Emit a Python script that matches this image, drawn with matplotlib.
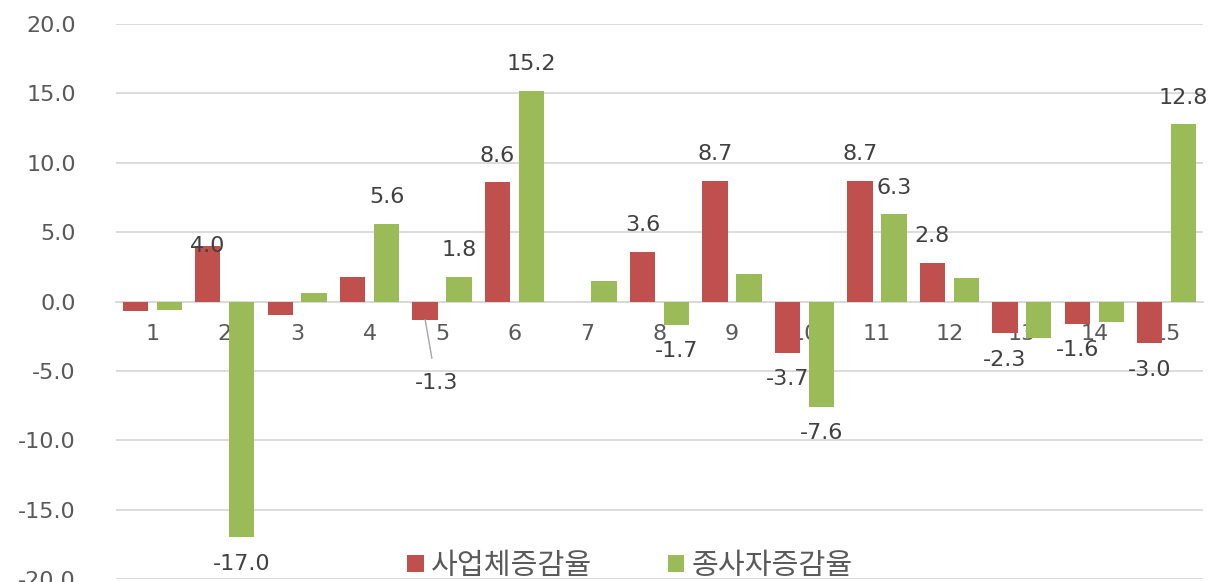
import matplotlib
matplotlib.use("Agg")
import matplotlib.pyplot as plt
import numpy as np

# ── data ─────────────────────────────────────────────
categories = [str(i) for i in range(1, 16)]
biz_rate = [-0.7, 4.0, -1.0, 1.8, -1.3, 8.6, 0.0, 3.6, 8.7, -3.7, 8.7, 2.8, -2.3, -1.6, -3.0]
emp_rate = [-0.6, -17.0, 0.6, 5.6, 1.8, 15.2, 1.5, -1.7, 2.0, -7.6, 6.3, 1.7, -2.6, -1.5, 12.8]
biz_show = [0, 1, 0, 0, 1, 1, 0, 1, 1, 1, 1, 1, 1, 1, 1]
emp_show = [0, 1, 0, 1, 1, 1, 0, 1, 0, 1, 1, 0, 0, 0, 1]
series_names = ['사업체증감율', '종사자증감율']
yticks = [-20, -15, -10, -5, 0, 5, 10, 15, 20]

RED = '#c0504d'
GREEN = '#9bbb59'
TXT = '#404040'

plt.rcParams['font.family'] = ['DejaVu Sans', 'Noto Sans CJK KR']

fig = plt.figure(figsize=(12.23, 5.82), dpi=100)
ax = fig.add_axes([116/1223, 3/582, 1087/1223, 555/582])

x = np.arange(1, 16)
w = 0.35
off = 0.234
ax.bar(x - off, biz_rate, w, color=RED, label=series_names[0], zorder=3)
ax.bar(x + off, emp_rate, w, color=GREEN, label=series_names[1], zorder=3)

ax.set_xlim(0.5, 15.5)
ax.set_ylim(-20, 20)
ax.set_yticks(yticks)
ax.set_yticklabels([f'{v:.1f}' for v in yticks], fontsize=16, color='#595959')
ax.tick_params(axis='y', length=0, pad=29)
ax.grid(axis='y', color='#d9d9d9', lw=1.3, zorder=0)

ax.spines['bottom'].set_position(('data', 0))
ax.spines['bottom'].set_color('#d9d9d9')
ax.spines['bottom'].set_linewidth(1.3)
for s in ['top', 'right', 'left']:
    ax.spines[s].set_visible(False)
ax.set_xticks(x)
ax.set_xticklabels(categories, fontsize=16, color='#595959')
ax.tick_params(axis='x', length=0, pad=16)

# data labels, ~26 px outside the bar end
def put_labels(xs, vals, show, special):
    for xi, v, s in zip(xs, vals, show):
        if not s:
            continue
        dy = 19 if v >= 0 else -19
        dx = 0
        kw = {}
        if v in special:
            dx, dy, kw = special[v]
        ax.annotate(f'{v:.1f}', (xi, v), xytext=(dx, dy), textcoords='offset points',
                    ha='center', va='center', fontsize=16, color=TXT, zorder=5, **kw)

put_labels(x - off, biz_rate, biz_show,
           {4.0: (0, 0, {}),
            -1.3: (8, -46, {'arrowprops': dict(arrowstyle='-', color='#a6a6a6', lw=1,
                                               shrinkA=9, shrinkB=0)})})
put_labels(x + off, emp_rate, emp_show, {})

ax.legend(loc='center', bbox_to_anchor=(630/1223, 16/582), bbox_transform=fig.transFigure,
          ncol=2, frameon=False, handlelength=0.55, handleheight=0.55,
          handletextpad=0.25, columnspacing=2.6, labelcolor='#595959',
          prop={'family': ['Noto Sans CJK KR'], 'size': 21})

fig.savefig('out.png', dpi=100)
